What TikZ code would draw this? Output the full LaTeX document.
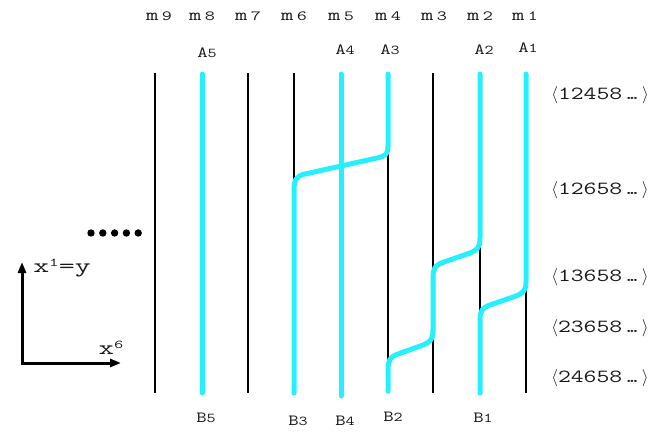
\documentclass[tikz,border=0pt]{standalone}
\usepackage{fontspec}
\usetikzlibrary{arrows.meta}
\definecolor{cyanline}{RGB}{38,240,255}
\definecolor{txt}{RGB}{25,25,25}
\newcommand\mlab[1]{\scalebox{1.4}[1]{\fontsize{17}{17}\selectfont m\kern2.5pt{\fontsize{14}{14}\selectfont #1}}}
\newcommand\ablab[2]{\scalebox{1.3}[1]{\fontsize{15.5}{15.5}\selectfont #1{\fontsize{13.5}{13.5}\selectfont #2}}}
\newcommand\rlab[1]{{\fontsize{19}{19}\selectfont$\langle$}\scalebox{1.35}[1]{\fontsize{18.5}{18.5}\selectfont #1.\kern-7pt.\kern-7pt.}{\fontsize{19}{19}\selectfont$\rangle$}}
\begin{document}
\begin{tikzpicture}[x=1pt,y=-1pt,
  blk/.style={line width=2pt,black},
  cy/.style={line width=5pt,cyanline,line cap=round,line join=round},
  lab/.style={inner sep=0pt,anchor=center,font=\ttfamily,text=txt},
  axis/.style={line width=3pt,black,line join=miter,{Triangle[length=11pt,width=8pt]}-{Triangle[length=11pt,width=8pt]}}]
\useasboundingbox (0,0) rectangle (654,432);
% column coordinates
\foreach \n/\x in {9/155,8/202,7/248,6/294,5/341,4/388,3/433,2/480,1/526}{
  \coordinate (m\n t) at (\x,73);
  \coordinate (m\n b) at (\x,393);
}
% black lines
\draw[blk] (m9t) -- (m9b);
\draw[blk] (m7t) -- (m7b);
\draw[blk] (m6t) -- (m6b);
\draw[blk] (m4t) -- (m4b);
\draw[blk] (m3t) -- (m3b);
\draw[blk] (m2t) -- (m2b);
\draw[blk] (m1t) -- (m1b);
% cyan strands
\coordinate (a5) at (202,74); \coordinate (b5) at (202,393);
\coordinate (a4) at (341,74); \coordinate (b4) at (341,396);
\coordinate (a3) at (388,74); \coordinate (b3) at (294,393);
\coordinate (a2) at (480,74); \coordinate (b2) at (388,391);
\coordinate (a1) at (526,74); \coordinate (b1) at (480,393);
\draw[cy] (a5) -- (b5);
\draw[cy] (a4) -- (b4);
\draw[cy] (a3) -- (388,146) .. controls (388,155) and (385,156) .. (377,158)
  -- (305,174) .. controls (296,176) and (294,180) .. (294,190) -- (b3);
\draw[cy] (a2) -- (480,238) .. controls (480,248) and (477,250) .. (470,253)
  -- (444,262) .. controls (435,265) and (433,268) .. (433,278)
  -- (433,330) .. controls (433,340) and (430,342) .. (423,345)
  -- (398,354) .. controls (390,357) and (388,360) .. (388,370) -- (b2);
\draw[cy] (a1) -- (526,282) .. controls (526,291) and (523,293) .. (516,296)
  -- (490,305) .. controls (482,308) and (480,311) .. (480,320) -- (b1);
% top m labels
\foreach \n/\x in {9/159,8/202,7/248,6/294,5/341,4/388,3/434,2/480,1/525}{
  \node[lab] (lm\n) at (\x,16) {\mlab{\n}};
}
% A labels
\node[lab] (A5) at (207,53) {\ablab{A}{5}};
\node[lab] (A4) at (345,50) {\ablab{A}{4}};
\node[lab] (A3) at (390,50) {\ablab{A}{3}};
\node[lab] (A2) at (484,50) {\ablab{A}{2}};
\node[lab] (A1) at (528,48) {\ablab{A}{1}};
% B labels
\node[lab] (B5) at (206,418) {\ablab{B}{5}};
\node[lab] (B3) at (298,421) {\ablab{B}{3}};
\node[lab] (B4) at (345,421) {\ablab{B}{4}};
\node[lab] (B2) at (393,417) {\ablab{B}{2}};
\node[lab] (B1) at (483,418) {\ablab{B}{1}};
% right labels
\node[lab] (r1) at (600,95) {\rlab{12458}};
\node[lab] (r2) at (600,190) {\rlab{12658}};
\node[lab] (r3) at (600,277) {\rlab{13658}};
\node[lab] (r4) at (600,328) {\rlab{23658}};
\node[lab] (r5) at (600,378) {\rlab{24658}};
% dots
\foreach \i in {0,...,4} \fill (91+\i*11.8,233) circle (3.7pt);
% axes
\coordinate (O) at (22,363);
\coordinate (yend) at (22,262);
\coordinate (xend) at (121,363);
\draw[axis] (yend) -- (O) -- (xend);
\node[lab] (ylab) at (62,268) {\scalebox{1.55}[1]{\fontsize{20}{20}\selectfont x\raisebox{6pt}{\fontsize{12}{12}\selectfont 1}=y}};
\node[lab] (xlab) at (111,348) {\scalebox{1.5}[1]{\fontsize{20}{20}\selectfont x\raisebox{6pt}{\fontsize{12}{12}\selectfont 6}}};
\end{tikzpicture}
\end{document}
